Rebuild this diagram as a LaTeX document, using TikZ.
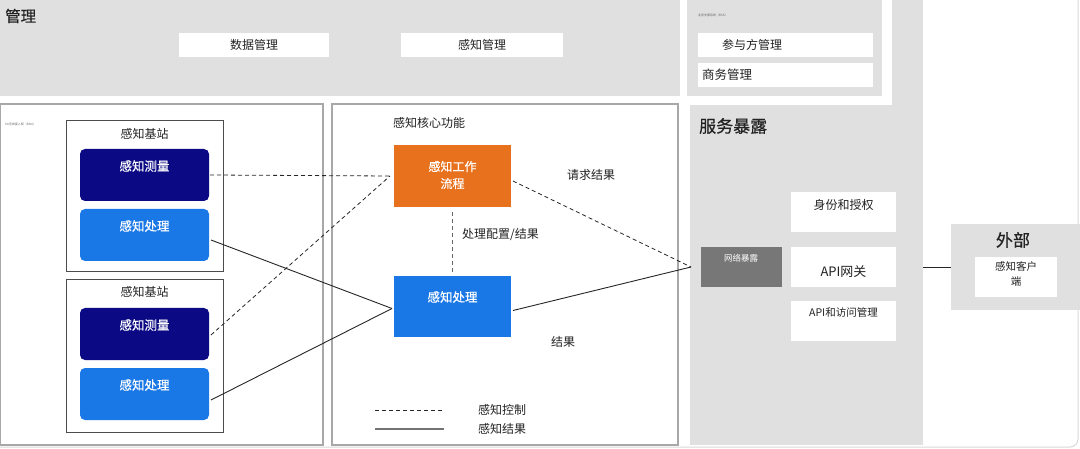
\documentclass[tikz,border=0pt]{standalone}
\usepackage{fontspec}
\setmainfont{Noto Sans CJK SC}
\newfontfamily\semib{Noto Sans CJK SC}[FakeBold=0.5]
\definecolor{panelgray}{HTML}{E0E0E0}
\definecolor{framegray}{HTML}{A8A8A8}
\definecolor{navy}{HTML}{0B0A84}
\definecolor{skyblue}{HTML}{1A78E6}
\definecolor{orangebox}{HTML}{E8711E}
\definecolor{darkgray}{HTML}{777777}
\definecolor{textgray}{HTML}{222222}
\tikzset{
  blk/.style={rectangle, inner sep=0pt, outer sep=0pt, anchor=north west},
  panel/.style={blk, fill=panelgray},
  whitebox/.style={blk, fill=white},
  frame/.style={blk, draw=framegray, line width=1.6pt, fill=white},
  bsframe/.style={blk, draw=black!70, line width=1pt, fill=white},
  navybox/.style={blk, fill=navy, rounded corners=5pt},
  bluebox/.style={blk, fill=skyblue, rounded corners=5pt},
  lbl/.style={inner sep=0pt, text=textgray, font=\fontsize{12}{13}\selectfont},
  wlbl/.style={inner sep=0pt, text=white, font=\semib\fontsize{12.5}{15}\selectfont},
  title/.style={inner sep=0pt, text=textgray, anchor=west, font=\semib\fontsize{17}{19}\selectfont},
  tiny/.style={inner sep=0pt, text=black!60, anchor=west, font=\fontsize{3}{3}\selectfont},
  ctrl/.style={dashed, dash pattern=on 4pt off 3pt, line width=0.8pt, draw=black!85},
  res/.style={line width=0.9pt, draw=black!85},
}
\begin{document}
\begin{tikzpicture}[x=1pt,y=-1pt]
\useasboundingbox (0,0) rectangle (1080,449);
\fill[white] (0,0) rectangle (1080,449);
% outer faint frame
\draw[black!15, line width=1pt, rounded corners=8pt] (-10,-10) rectangle (1078,447);

% ---------- management panel ----------
\node[panel, minimum width=680pt, minimum height=96pt] (mgmt) at (0,0) {};
\node[title, font=\semib\fontsize{15.5}{17}\selectfont] (mgmtT) at (5,16) {管理};
\node[whitebox, minimum width=150pt, minimum height=24pt] (dm) at (179,33) {};
\node[lbl] at (dm.center) {数据管理};
\node[whitebox, minimum width=162pt, minimum height=24pt] (sm) at (401,33) {};
\node[lbl] at (sm.center) {感知管理};

% ---------- service exposure panel ----------
\node[panel, minimum width=233pt, minimum height=445pt] (svc) at (690,0) {};
\node[whitebox, minimum width=212pt, minimum height=105pt] (bssW) at (680,0) {};
\node[panel, minimum width=195pt, minimum height=96pt] (bss) at (687,0) {};
\node[tiny] at (698,15) {业务支撑系统（BSS）};
\node[whitebox, minimum width=175pt, minimum height=24pt] (pm) at (698,33) {};
\node[lbl, anchor=west] at (722,45) {参与方管理};
\node[whitebox, minimum width=175pt, minimum height=24pt] (bm) at (698,63) {};
\node[lbl, anchor=west, font=\fontsize{12.5}{14}\selectfont] at (702,75) {商务管理};

\node[title] (svcT) at (699,126) {服务暴露};
\node[blk, fill=darkgray, minimum width=81pt, minimum height=40pt] (ne) at (701,247) {};
\node[inner sep=0pt, text=white, font=\fontsize{8.5}{10}\selectfont] at (741,258) {网络暴露};
\node[whitebox, minimum width=105pt, minimum height=40pt] (auth) at (791,192) {};
\node[lbl] at (843.5,205) {身份和授权};
\node[whitebox, minimum width=105pt, minimum height=40pt] (api) at (791,247) {};
\node[lbl, font=\fontsize{13}{15}\selectfont] at (843.5,272) {API网关};
\node[whitebox, minimum width=105pt, minimum height=40pt] (apim) at (791,301) {};
\node[lbl, font=\fontsize{10.5}{12}\selectfont] at (843.5,312) {API和访问管理};

% ---------- external ----------
\node[panel, minimum width=129pt, minimum height=86pt] (ext) at (951,224) {};
\node[inner sep=0pt, text=textgray, font=\semib\fontsize{17}{19}\selectfont] at (1013,240) {外部};
\node[whitebox, minimum width=82pt, minimum height=40pt] (cli) at (975,257) {};
\node[lbl, align=center, font=\fontsize{10.5}{15}\selectfont] at (1016,274) {感知客户\\端};
\draw[res] (svc.east |- 0,267) -- (ext.west |- 0,267);

% ---------- RAN panel ----------
\node[frame, minimum width=323pt, minimum height=341pt] (ran) at (0,104) {};
\node[tiny] at (5,124) {5G无线接入网（RAN）};
% base station 1
\node[bsframe, minimum width=157pt, minimum height=151pt] (bs1) at (66,121) {};
\node[lbl] at (144.5,134) {感知基站};
\node[navybox, minimum width=129pt, minimum height=52pt] (m1) at (80,149) {};
\node[wlbl] at (144.5,166) {感知测量};
\node[bluebox, minimum width=129pt, minimum height=52pt] (p1) at (80,209) {};
\node[wlbl] at (144.5,226) {感知处理};
% base station 2
\node[bsframe, minimum width=157pt, minimum height=152pt] (bs2) at (66,280) {};
\node[lbl] at (144.5,292) {感知基站};
\node[navybox, minimum width=129pt, minimum height=52pt] (m2) at (80,308) {};
\node[wlbl] at (144.5,325) {感知测量};
\node[bluebox, minimum width=129pt, minimum height=52pt] (p2) at (80,368) {};
\node[wlbl] at (144.5,385) {感知处理};

% ---------- core panel ----------
\node[frame, minimum width=346pt, minimum height=341pt] (core) at (332,104) {};
\node[lbl, anchor=west] at (393,123) {感知核心功能};
\node[blk, fill=orangebox, minimum width=117pt, minimum height=62pt] (wf) at (394,145) {};
\node[wlbl, align=center, font=\semib\fontsize{12}{17}\selectfont] at (452.5,175) {感知工作\\流程};
\node[blk, fill=skyblue, minimum width=117pt, minimum height=61pt] (cp) at (394,276) {};
\node[wlbl] at (452.5,297) {感知处理};
\node[lbl, anchor=west] at (462,235) {处理配置/结果};
\node[lbl, anchor=west] at (567,175) {请求结果};
\node[lbl, anchor=west] at (551,342) {结果};

% legend
\coordinate (lg1a) at (375,410); \coordinate (lg1b) at (444,410);
\coordinate (lg2a) at (375,429); \coordinate (lg2b) at (444,429);
\draw[ctrl] (lg1a) -- (lg1b);
\draw[res, draw=black!55, line width=1.1pt] (lg2a) -- (lg2b);
\node[lbl, anchor=west] at (478,410) {感知控制};
\node[lbl, anchor=west] at (478,429) {感知结果};

% ---------- connectors ----------
\coordinate (wfL) at ([xshift=-4pt]wf.west);
\coordinate (cpL) at ([xshift=-2pt,yshift=-2pt]cp.west);
\draw[ctrl] ([xshift=1pt]m1.east) -- (wfL);
\draw[ctrl] ([xshift=2pt,yshift=-1pt]m2.east) -- (wfL);
\draw[res] ([xshift=2pt,yshift=-5pt]p1.east) -- (cpL);
\draw[res] ([xshift=2pt,yshift=-6pt]p2.east) -- (cpL);
\draw[ctrl, draw=black!60] ([yshift=-5pt]wf.south) -- ([yshift=4pt]cp.north);
\draw[ctrl] ([xshift=2pt,yshift=-5pt]wf.east) -- ([xshift=-10pt]ne.west);
\draw[res] ([xshift=2pt,yshift=-4pt]cp.east) -- ([xshift=-10pt]ne.west);
\end{tikzpicture}
\end{document}
